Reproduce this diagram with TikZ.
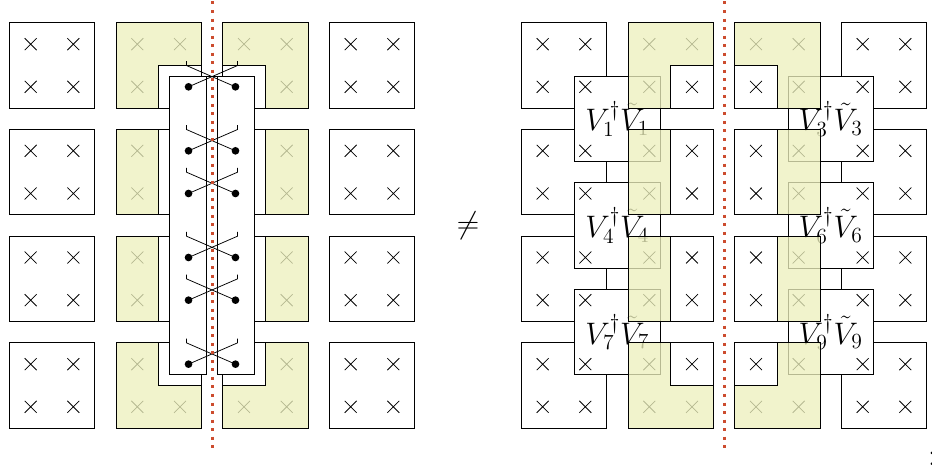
\documentclass[tikz,border=0pt]{standalone}
\definecolor{patchyellow}{rgb}{0.93,0.94,0.74}
\definecolor{cutred}{rgb}{0.80,0.30,0.18}
\tikzset{
	patch/.style={draw=black,fill=patchyellow,fill opacity=.77},
	tile/.style={draw=black,fill=white},
	wiredot/.style={circle,fill=black,inner sep=0pt,minimum size=.18cm},
	cutline/.style={cutred,line width=2pt,dash pattern=on 2pt off 3.69pt},
	vlabel/.style={font=\huge},
}
\newcommand{\crossat}[2]{\draw (#1-.14,#2-.14)--(#1+.14,#2+.14) (#1-.14,#2+.14)--(#1+.14,#2-.14);}
\begin{document}
\begin{tikzpicture}[line width=.5pt]
	\useasboundingbox (-1.219,1.535) rectangle (20.625,-9.41);
	\foreach \dx in {0,12}{
		\begin{scope}[xshift=\dx cm]
			\foreach \x in {0,2.5,5,7.5}
				\foreach \y in {0,-2.5,-5,-7.5}
					\draw[tile] (\x-1,\y-1) rectangle (\x+1,\y+1);
		\end{scope}
	}
	\foreach \x in {12.25,17.25}
		\foreach \y in {-.25,-2.75,-5.25}
			\draw[tile] (\x,\y) rectangle (\x+2,\y-2);
	\foreach \dx in {0,12}{
		\begin{scope}[xshift=\dx cm]
			\foreach \x in {-.5,.5,2,3,4.5,5.5,7,8}{
				\foreach \y in {.5,-.5,-2,-3,-4.5,-5.5,-7,-8}{
					\crossat{\x}{\y}
				}
			}
		\end{scope}
	}
	\node[vlabel] (v1) at (13.25,-1.25) {$V_1^\dagger\tilde V_1$};
	\node[vlabel] (v4) at (13.25,-3.75) {$V_4^\dagger\tilde V_4$};
	\node[vlabel] (v7) at (13.25,-6.25) {$V_7^\dagger\tilde V_7$};
	\node[vlabel] (v3) at (18.25,-1.25) {$V_3^\dagger\tilde V_3$};
	\node[vlabel] (v6) at (18.25,-3.75) {$V_6^\dagger\tilde V_6$};
	\node[vlabel] (v9) at (18.25,-6.25) {$V_9^\dagger\tilde V_9$};
	\foreach \dx in {0,12}{
		\begin{scope}[xshift=\dx cm]
			\draw[patch] (1.5,1)--(3.5,1)--(3.5,0)--(2.5,0)--(2.5,-1)--(1.5,-1)--cycle;
			\draw[patch] (1.5,-1.5) rectangle (2.5,-3.5);
			\draw[patch] (1.5,-4) rectangle (2.5,-6);
			\draw[patch] (1.5,-8.5)--(3.5,-8.5)--(3.5,-7.5)--(2.5,-7.5)--(2.5,-6.5)--(1.5,-6.5)--cycle;
			\draw[patch] (6,1)--(4,1)--(4,0)--(5,0)--(5,-1)--(6,-1)--cycle;
			\draw[patch] (5,-1.5) rectangle (6,-3.5);
			\draw[patch] (5,-4) rectangle (6,-6);
			\draw[patch] (6,-8.5)--(4,-8.5)--(4,-7.5)--(5,-7.5)--(5,-6.5)--(6,-6.5)--cycle;
		\end{scope}
	}
	\draw[fill=white] (3.625,-7.25)--(2.75,-7.25)--(2.75,-.25)--(4.75,-.25)--(4.75,-7.25)--(3.875,-7.25)--(3.875,-.25)--(3.625,-.25)--cycle;
	\foreach \i/\y in {1/-.5,2/-2,3/-3,4/-4.5,5/-5.5,6/-7}{
		\node[wiredot] (l\i) at (3.2,\y) {};
		\node[wiredot] (r\i) at (4.3,\y) {};
		\coordinate (tl\i) at (3.15,\y+.5);
		\coordinate (tr\i) at (4.35,\y+.5);
		\draw (l\i.center)--(tr\i)--++(0,.1);
		\draw (r\i.center)--(tl\i)--++(0,.1);
	}
	\draw[cutline] (3.75,1.5)--(3.75,-9);
	\draw[cutline] (15.75,1.5)--(15.75,-9);
	\node[font=\huge] (neq) at (9.75,-3.75) {$\neq$};
	\node[font=\huge,anchor=base west] (stop) at (20.41,-9.37) {;};
\end{tikzpicture}
\end{document}
